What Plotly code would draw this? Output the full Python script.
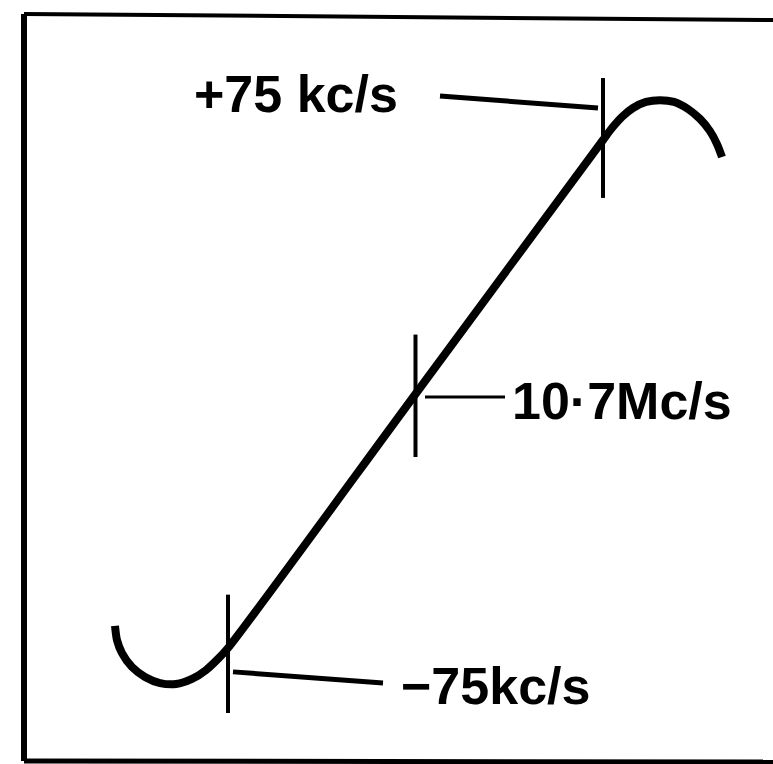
import plotly.graph_objects as go

# Discriminator S-curve: output vs. frequency deviation from 10.7 Mc/s
deviation_kcs = [-120.2, -119.4, -117.4, -113.4, -108.2, -102.2, -95.8, -89.4, -83.8, -79.0,
                 -75.0, 0.0, 75.0,
                 78.6, 82.6, 87.0, 92.2, 97.8, 103.4, 109.0, 113.8, 117.8, 120.6, 122.6]
output = [-0.913, -0.969, -1.020, -1.075, -1.114, -1.138, -1.142, -1.122, -1.087, -1.043,
          -1.000, 0.0, 1.000,
          1.047, 1.091, 1.126, 1.150, 1.157, 1.150, 1.122, 1.083, 1.035, 0.984, 0.933]

# Marker strokes across the curve at -75 kc/s, centre and +75 kc/s
marker_kcs = [-75.0, 0.0, 75.0]
marker_top = [-0.790, 0.234, 1.244]
marker_bottom = [-1.256, -0.248, 0.772]

# Label leader lines (start and end points)
leader_x = [[9.8, 73.0], [3.8, 35.8], [-73.0, -13.0]]
leader_y = [[1.173, 1.126], [-0.012, -0.012], [-1.094, -1.138]]
leader_widths = [5, 3, 5]

# Labels
label_text = ["+75 kc/s", "10·7Mc/s", "−75kc/s"]
label_x = [-89.5, 37.8, -6.6]
label_y = [1.183, -0.028, -1.150]

fig = go.Figure()

fig.add_trace(go.Scatter(
    x=deviation_kcs, y=output, mode="lines",
    line=dict(color="black", width=8, shape="spline", smoothing=0.8),
    hoverinfo="skip"))

for xk, top, bot in zip(marker_kcs, marker_top, marker_bottom):
    fig.add_trace(go.Scatter(
        x=[xk, xk], y=[bot, top], mode="lines",
        line=dict(color="black", width=4), hoverinfo="skip"))

for lx, ly, lw in zip(leader_x, leader_y, leader_widths):
    fig.add_trace(go.Scatter(
        x=lx, y=ly, mode="lines",
        line=dict(color="black", width=lw), hoverinfo="skip"))

for txt, tx, ty in zip(label_text, label_x, label_y):
    fig.add_annotation(
        x=tx, y=ty, xref="x", yref="y", text=txt, showarrow=False,
        xanchor="left", yanchor="middle",
        font=dict(family="Liberation Sans", size=52, color="black", weight="bold"))

# Surrounding frame
W, H = 773, 764
frame = [((24, 14), (773, 20), 4), ((24, 14), (24, 761), 6), ((24, 761), (773, 762), 5)]
for (x0, y0), (x1, y1), w in frame:
    fig.add_shape(type="line", xref="paper", yref="paper",
                  x0=x0 / W, y0=1 - y0 / H, x1=x1 / W, y1=1 - y1 / H,
                  line=dict(color="black", width=w))

fig.update_layout(
    width=W, height=H,
    margin=dict(l=0, r=0, t=0, b=0),
    paper_bgcolor="white", plot_bgcolor="white",
    showlegend=False,
    xaxis=dict(range=[-166.2, 143.0], visible=False, fixedrange=True),
    yaxis=dict(range=[-1.4567, 1.5512], visible=False, fixedrange=True),
)

fig.write_html("out.html")
